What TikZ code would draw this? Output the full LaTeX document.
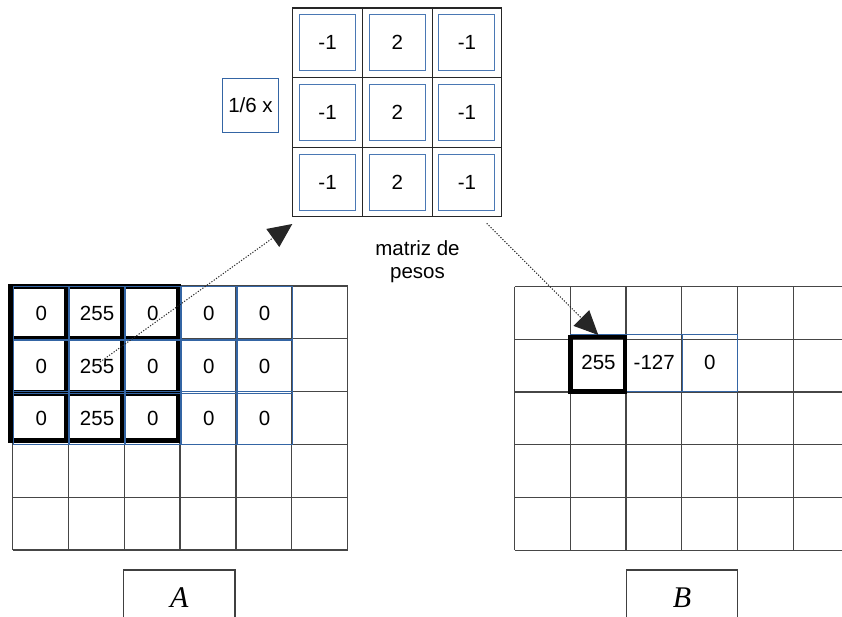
\documentclass[tikz,border=0pt]{standalone}
\usepackage{fontspec}
\setmainfont{Liberation Sans}
\newfontfamily\labserif{Liberation Serif}
\usetikzlibrary{arrows.meta}
\definecolor{boxblue}{RGB}{52,101,164}
\definecolor{kblue}{RGB}{74,120,180}
\definecolor{gridline}{RGB}{70,70,70}
\begin{document}
\begin{tikzpicture}[x=1pt,y=-1pt,
  gridln/.style={draw=gridline, line width=1.3pt},
  kgrid/.style={draw=black!85, line width=1.2pt},
  heavy/.style={draw=black, line width=5.5pt, line join=miter},
  numfont/.style={font=\fontsize{20.5}{23}\selectfont},
  cellA/.style={draw=boxblue, line width=1pt, minimum width=55pt, minimum height=53pt, inner sep=0pt, numfont},
  cellB/.style={draw=boxblue, line width=1pt, minimum width=55.7pt, minimum height=56.7pt, inner sep=0pt, numfont},
  kcell/.style={draw=kblue, line width=1pt, minimum width=56pt, minimum height=56pt, inner sep=0pt, numfont},
  labbox/.style={draw=black!75, line width=1.2pt, minimum width=111.7pt, minimum height=56pt, inner sep=0pt, font=\labserif\itshape\fontsize{30}{34}\selectfont},
  dotarrow/.style={draw=black!85, line width=1pt, dash pattern=on 1.2pt off 1.6pt, -{Triangle[length=24pt,width=22pt]}}
]
\useasboundingbox (0,0) rectangle (842,616);

% ---------- grid A ----------
\foreach \x in {12.7,68.5,124.3,180.1,235.9,291.7,347.5}
  \draw[gridln] (\x,286) -- (\x,550);
\foreach \y in {286,338.8,391.6,444.4,497.2,550}
  \draw[gridln] (12.7,\y) -- (347.5,\y);

% heavy 3x3 frame (kernel overlay)
\foreach \xa/\xb in {11.2/67,67/122.8,122.8/178.6}
  \foreach \ya/\yb in {286.7/338.7,338.7/393,393/440.5}
    \draw[heavy] (\xa,\ya) rectangle (\xb,\yb);

% cells A
\node[cellA] (a00) at (41.3,313.4) {0};
\node[cellA] (a01) at (97.1,313.4) {255};
\node[cellA] (a02) at (152.9,313.4) {0};
\node[cellA] (a03) at (208.7,313.4) {0};
\node[cellA] (a04) at (264.5,313.4) {0};
\node[cellA] (a10) at (41.3,366.5) {0};
\node[cellA] (a11) at (97.1,366.5) {255};
\node[cellA] (a12) at (152.9,366.5) {0};
\node[cellA] (a13) at (208.7,366.5) {0};
\node[cellA] (a14) at (264.5,366.5) {0};
\node[cellA] (a20) at (41.3,418.3) {0};
\node[cellA] (a21) at (97.1,418.3) {255};
\node[cellA] (a22) at (152.9,418.3) {0};
\node[cellA] (a23) at (208.7,418.3) {0};
\node[cellA] (a24) at (264.5,418.3) {0};

% ---------- grid B ----------
\foreach \x in {514.7,570.4,626.1,681.8,737.5,793.2}
  \draw[gridln] (\x,286.7) -- (\x,550.2);
\foreach \y in {286.7,339.4,392.1,444.8,497.5,550.2}
  \draw[gridln] (514.7,\y) -- (842,\y);

\node[cellB] (b11) at (598.5,362.7) {255};
\node[cellB] (b12) at (654.2,362.7) {-127};
\node[cellB] (b13) at (709.9,362.7) {0};
\draw[draw=black, line width=4.5pt, line join=miter] (570.5,337) rectangle (625,391.7);

% ---------- kernel ----------
\draw[kgrid] (292.7,8) rectangle (501.8,216.8);
\draw[kgrid] (362.4,8) -- (362.4,216.8);
\draw[kgrid] (432.1,8) -- (432.1,216.8);
\draw[kgrid] (292.7,77.6) -- (501.8,77.6);
\draw[kgrid] (292.7,147.2) -- (501.8,147.2);

\node[kcell] (k00) at (327.55,42.8) {-1};
\node[kcell] (k01) at (397.25,42.8) {2};
\node[kcell] (k02) at (466.95,42.8) {-1};
\node[kcell] (k10) at (327.55,112.4) {-1};
\node[kcell] (k11) at (397.25,112.4) {2};
\node[kcell] (k12) at (466.95,112.4) {-1};
\node[kcell] (k20) at (327.55,182) {-1};
\node[kcell] (k21) at (397.25,182) {2};
\node[kcell] (k22) at (466.95,182) {-1};

\node[draw=boxblue, line width=1pt, minimum width=55.6pt, minimum height=54.7pt, inner sep=0pt, numfont] (scale) at (250.5,105.4) {1/6 x};

\node[numfont, align=center, inner sep=0pt] (lbl) at (417.5,261.8) {matriz de\\pesos};

% ---------- labels ----------
\node[labbox] (labA) at (179.2,598) {A};
\node[labbox] (labB) at (682,598) {B};

% ---------- arrows ----------
\coordinate (s1) at (100,362);
\coordinate (e1) at (292.3,224);
\coordinate (s2) at (486.7,223.3);
\coordinate (e2) at (598.3,335);
\draw[dotarrow] (s1) -- (e1);
\draw[dotarrow] (s2) -- (e2);
\end{tikzpicture}
\end{document}
